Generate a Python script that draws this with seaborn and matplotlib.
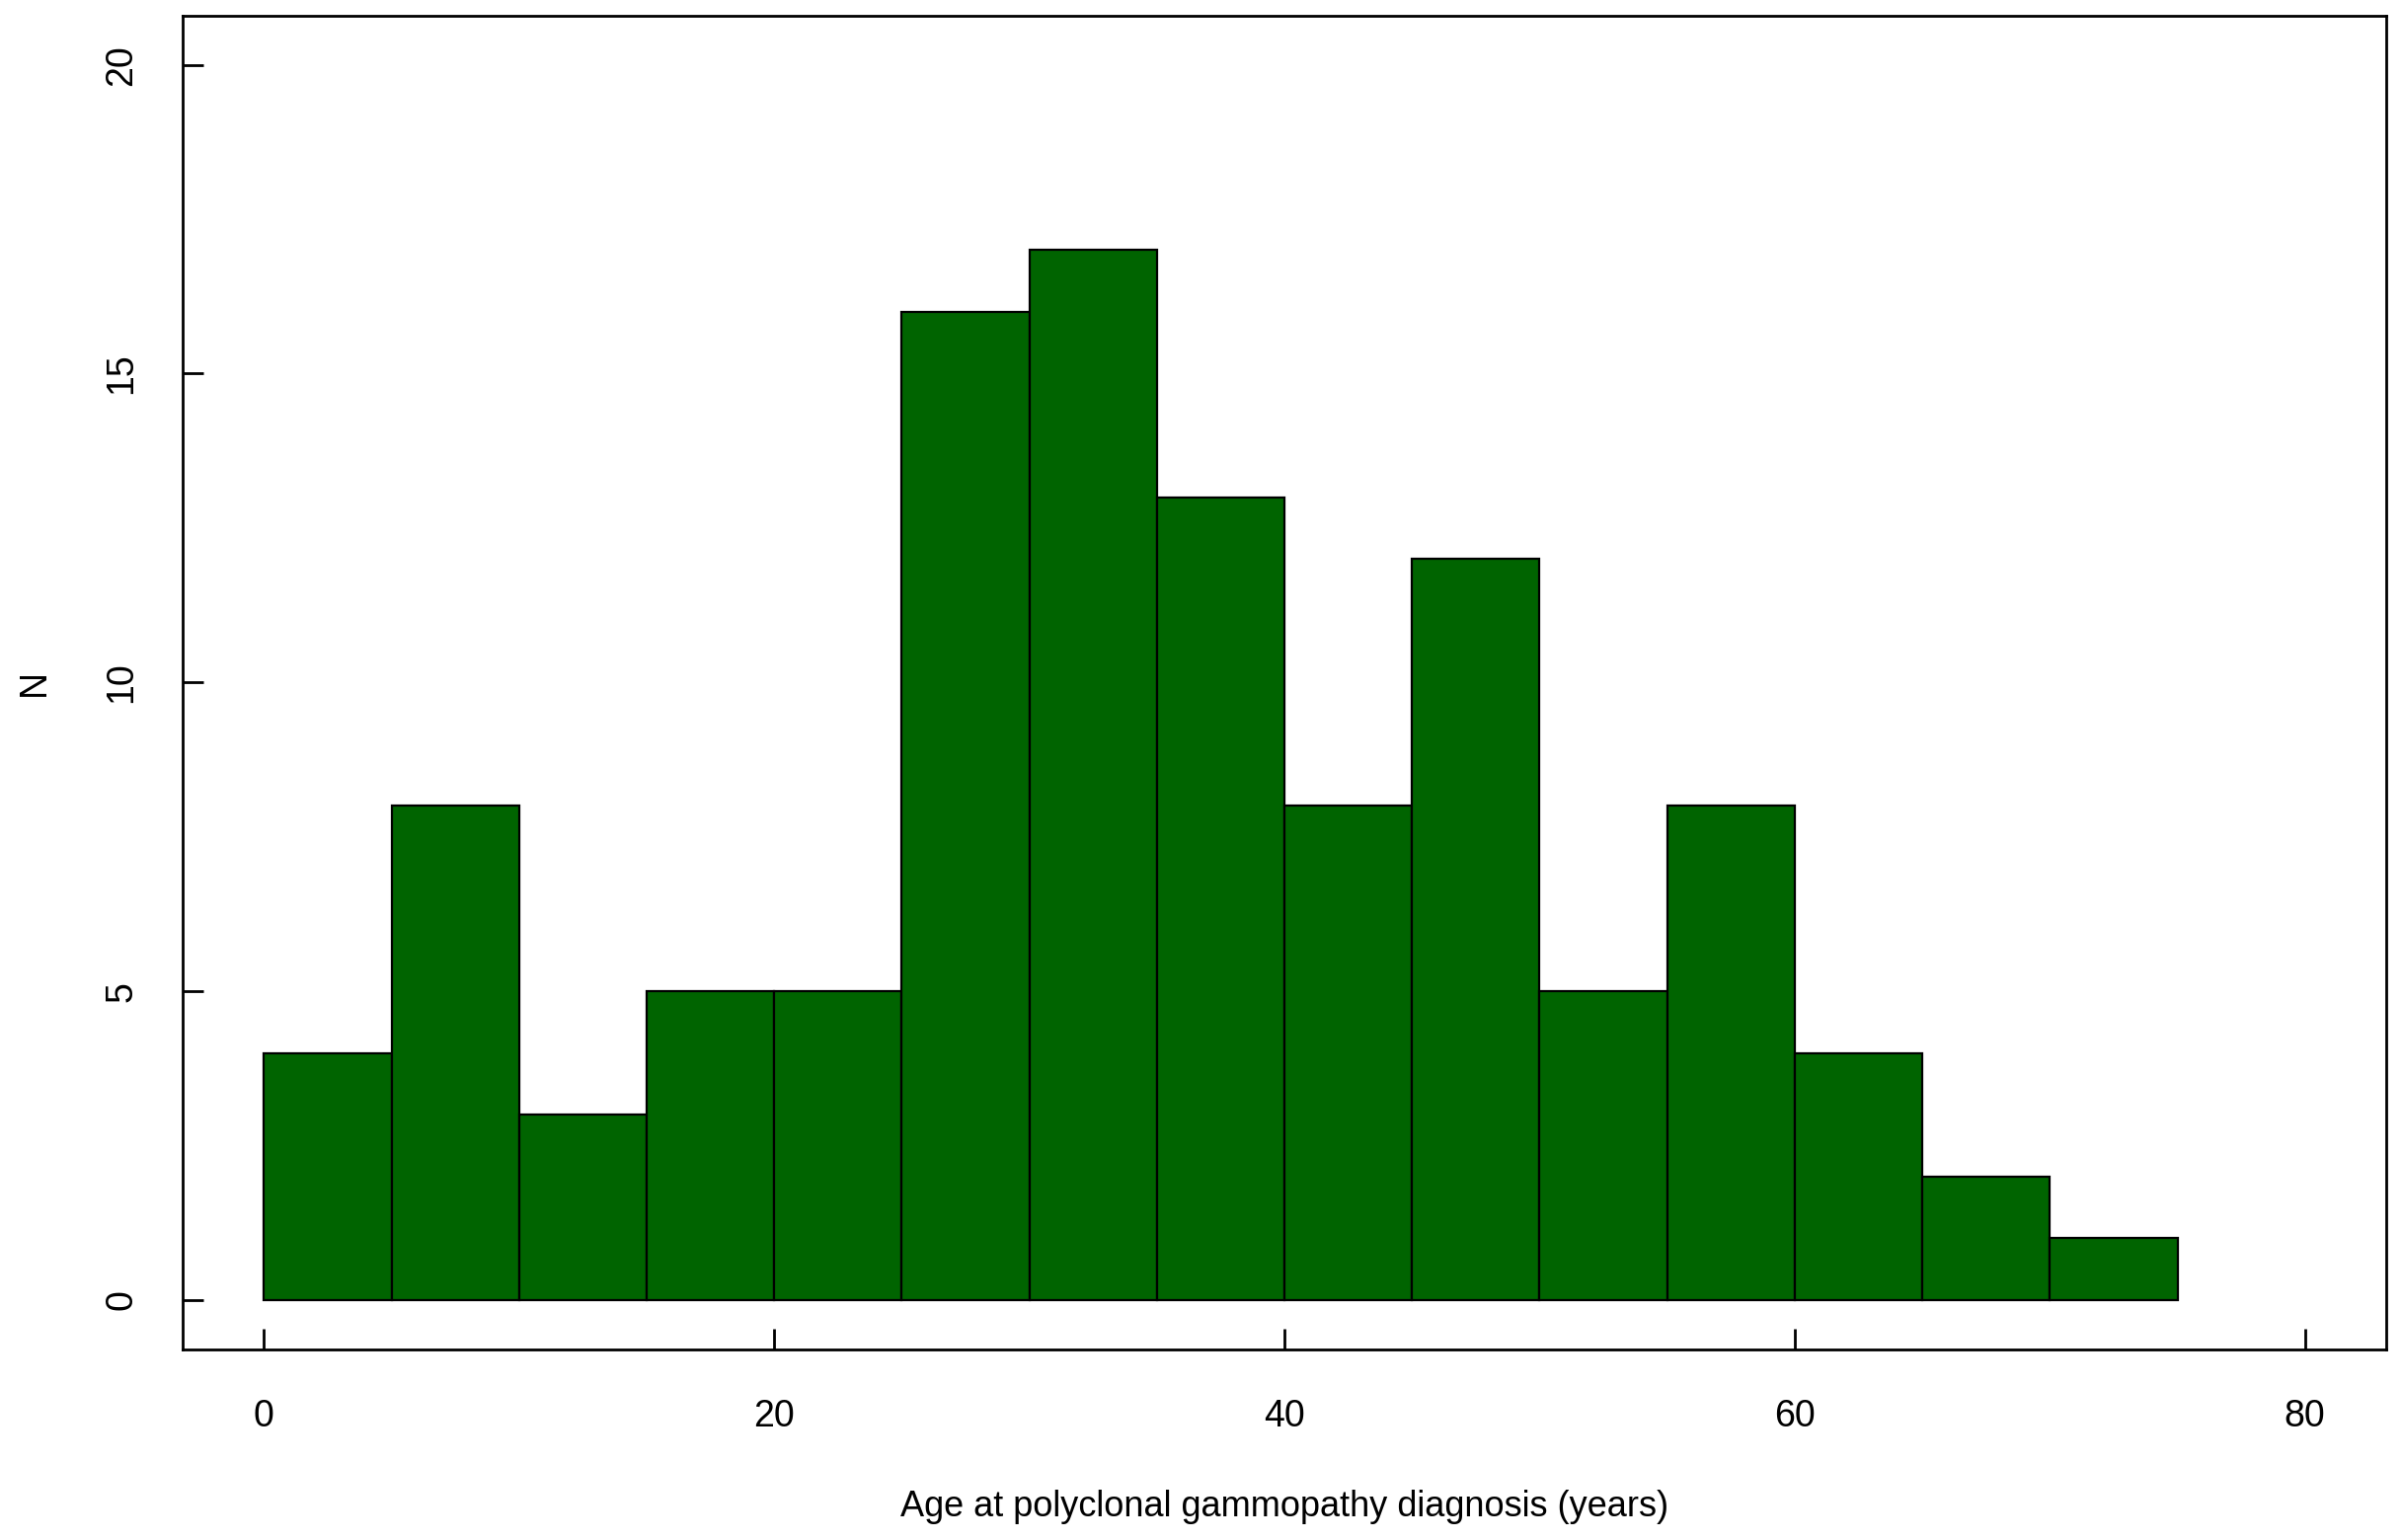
import matplotlib
matplotlib.use("Agg")
import matplotlib.pyplot as plt
import seaborn as sns
import numpy as np

# histogram bins (years) and counts per bin
bin_edges = [0, 5, 10, 15, 20, 25, 30, 35, 40, 45, 50, 55, 60, 65, 70, 75]
counts = [4, 8, 3, 5, 5, 16, 17, 13, 8, 12, 5, 8, 4, 2, 1]
x_ticks = [0, 20, 40, 60, 80]
y_ticks = [0, 5, 10, 15, 20]

sns.set_style("white")
plt.rcParams['font.family'] = ['Liberation Sans', 'DejaVu Sans']

bin_mids = [(a + b) / 2 for a, b in zip(bin_edges[:-1], bin_edges[1:])]

fig = plt.figure(figsize=(24.33, 15.6), dpi=100)
ax = fig.add_axes([0.0759, 0.1237, 0.9177, 0.8663])

sns.histplot(x=bin_mids, weights=counts, bins=bin_edges, color="#006400",
             edgecolor="black", linewidth=1.6, alpha=1, ax=ax)

ax.set_xlim(-3.2, 83.2)
ax.set_ylim(-0.8, 20.8)
ax.set_xticks(x_ticks)
ax.set_yticks(y_ticks)
ax.tick_params(bottom=True, left=True, direction="in", length=15, width=2,
               color="black", labelsize=27, labelcolor="black")
ax.tick_params(axis="y", pad=31)
ax.tick_params(axis="x", pad=36)
plt.setp(ax.get_yticklabels(), rotation=90, va="center")

for s in ax.spines.values():
    s.set_visible(True)
    s.set_color("black")
    s.set_linewidth(2)

ax.set_xlabel("Age at polyclonal gammopathy diagnosis (years)", fontsize=26,
              color="black", labelpad=40)
ax.set_ylabel("N", fontsize=27, color="black", labelpad=38)

fig.savefig("out.png", dpi=100)
